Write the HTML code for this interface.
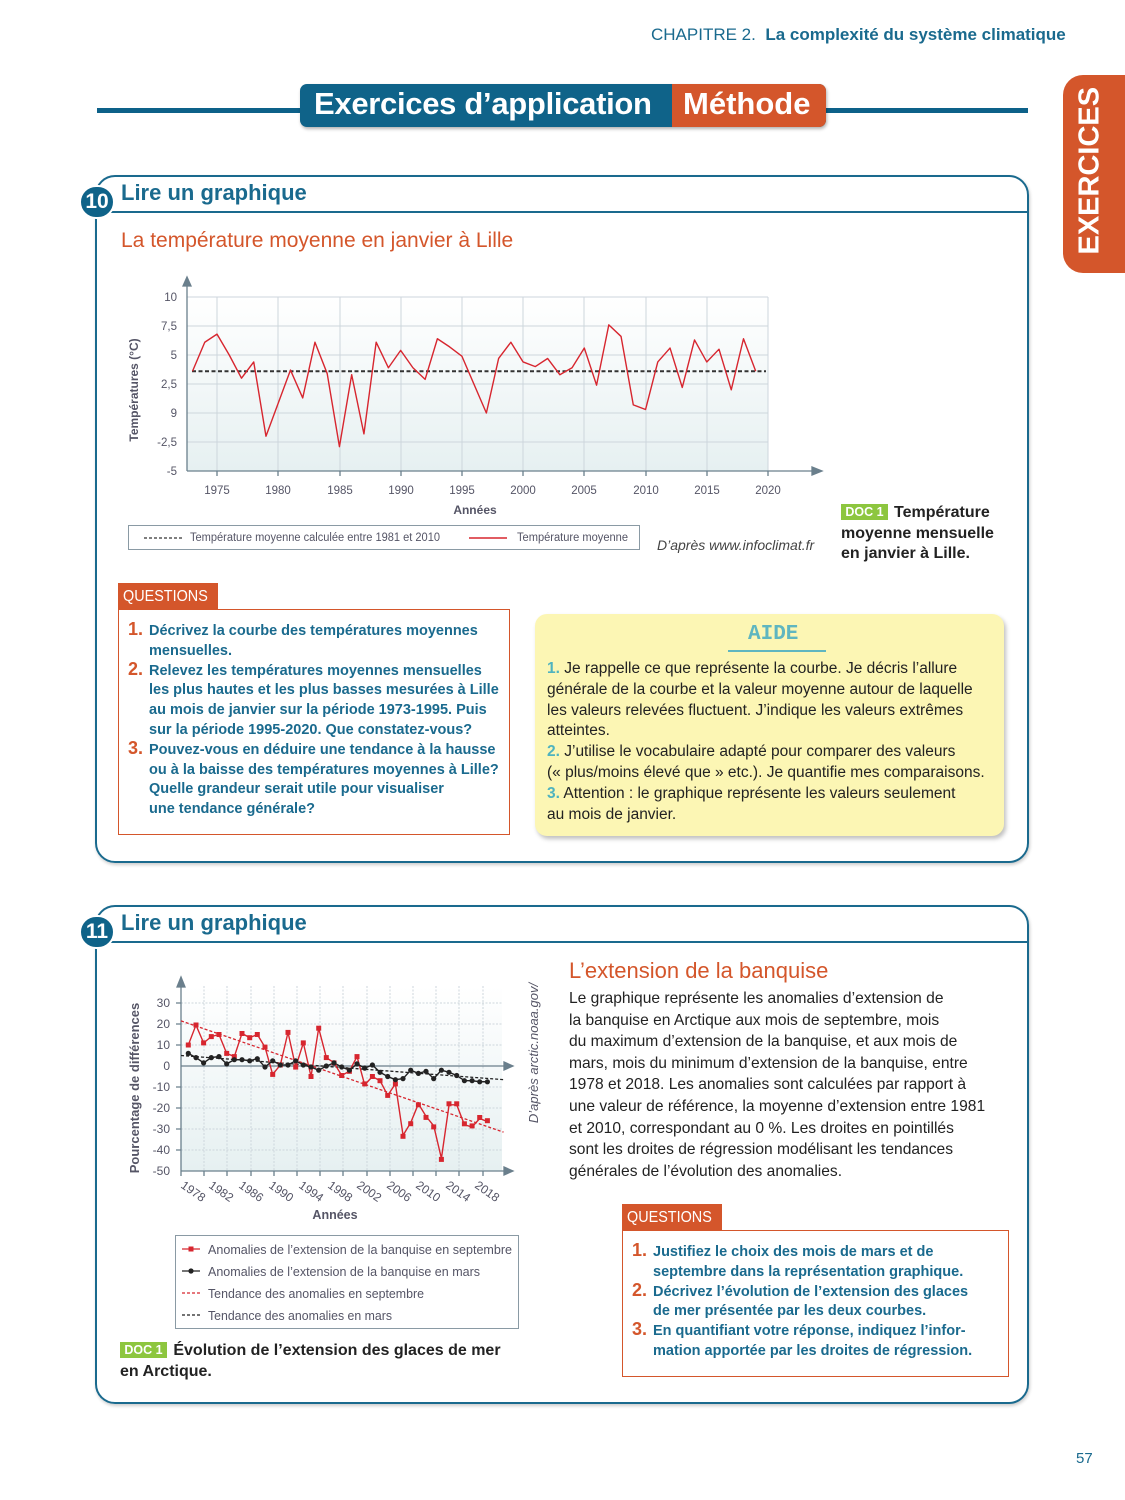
<!DOCTYPE html>
<html><head><meta charset="utf-8">
<style>
*{margin:0;padding:0;box-sizing:border-box}
body{width:1125px;height:1500px;position:relative;background:#fff;font-family:"Liberation Sans",sans-serif;overflow:hidden}
.a{position:absolute;white-space:nowrap}
.blue{color:#1a6a8e}
.q{position:absolute;font-size:14.5px;font-weight:bold;color:#1a6a8e;line-height:19.8px}
.q .n{position:absolute;color:#d4562b;font-size:18px}
.aide{font-size:15.5px;line-height:20.8px;color:#222}
.aide b{color:#4fb3bf}
.ql{position:absolute;width:100px;height:27px;background:#d4562b;color:#fff;font-size:16px;line-height:27px;padding-left:5px;overflow:hidden}
.ql span{display:inline-block;transform:scaleX(0.9);transform-origin:left}
</style></head><body>

<div class="a" style="left:651px;top:25px;font-size:17px;color:#1a6a8e">CHAPITRE 2.&nbsp; <b>La complexité du système climatique</b></div>

<div class="a" style="left:97px;top:108px;width:931px;height:5px;background:#0d6189"></div>
<div class="a" style="left:300px;top:84px;width:526px;height:43px;border-radius:7px;background:#0f6389;box-shadow:1px 2px 3px rgba(0,0,0,.3)"></div>
<div class="a" style="left:672px;top:84px;width:154px;height:43px;border-radius:0 7px 7px 0;background:#d4562b"></div>
<div class="a" style="left:314px;top:86px;font-size:31px;font-weight:bold;color:#fff;letter-spacing:-0.3px">Exercices d’application</div>
<div class="a" style="left:683px;top:86px;font-size:31px;font-weight:bold;color:#fff">Méthode</div>

<div class="a" style="left:1063px;top:75px;width:70px;height:198px;border-radius:20px 0 0 20px;background:#d4562b"></div>
<div class="a" style="left:1010px;top:158px;width:160px;transform:rotate(-90deg);text-align:center;font-size:29px;font-weight:bold;color:#fff">EXERCICES</div>

<!-- Box 1 -->
<div class="a" style="left:95px;top:175px;width:934px;height:688px;border:2px solid #1a6a8e;border-radius:20px;box-shadow:1px 2px 3px rgba(0,0,0,.2)"></div>
<div class="a" style="left:95px;top:211px;width:934px;height:2px;background:#1a6a8e"></div>
<div class="a" style="left:79px;top:185px;width:36px;height:34px;border-radius:17px;background:#0f6389;border:2px solid #fff;color:#fff;font-weight:bold;font-size:21px;text-align:center;line-height:30px">10</div>
<div class="a blue" style="left:121px;top:180px;font-size:22px;font-weight:bold">Lire un graphique</div>
<div class="a" style="left:121px;top:229px;font-size:21px;color:#d4562b">La température moyenne en janvier à Lille</div>

<!-- Box 2 -->
<div class="a" style="left:95px;top:905px;width:934px;height:499px;border:2px solid #1a6a8e;border-radius:20px;box-shadow:1px 2px 3px rgba(0,0,0,.2)"></div>
<div class="a" style="left:95px;top:941px;width:934px;height:2px;background:#1a6a8e"></div>
<div class="a" style="left:79px;top:915px;width:36px;height:34px;border-radius:17px;background:#0f6389;border:2px solid #fff;color:#fff;font-weight:bold;font-size:21px;text-align:center;line-height:30px">11</div>
<div class="a blue" style="left:121px;top:910px;font-size:22px;font-weight:bold">Lire un graphique</div>

<svg class="a" style="left:0;top:0" width="1125" height="1500" font-family="Liberation Sans, sans-serif">
<defs>
<linearGradient id="g1" x1="0" y1="0" x2="0" y2="1"><stop offset="0" stop-color="#fff"/><stop offset="1" stop-color="#e6f0f1"/></linearGradient>
</defs>
<!-- Chart 1 -->
<rect x="187" y="297" width="581" height="174" fill="url(#g1)"/>
<g stroke="#cdd6dc" stroke-width="1">
<line x1="187" y1="297" x2="768" y2="297"/><line x1="187" y1="326" x2="768" y2="326"/><line x1="187" y1="355" x2="768" y2="355"/><line x1="187" y1="384" x2="768" y2="384"/><line x1="187" y1="413" x2="768" y2="413"/><line x1="187" y1="442" x2="768" y2="442"/>
<line x1="217" y1="297" x2="217" y2="471"/><line x1="278" y1="297" x2="278" y2="471"/><line x1="340" y1="297" x2="340" y2="471"/><line x1="401" y1="297" x2="401" y2="471"/><line x1="462" y1="297" x2="462" y2="471"/><line x1="523" y1="297" x2="523" y2="471"/><line x1="584" y1="297" x2="584" y2="471"/><line x1="646" y1="297" x2="646" y2="471"/><line x1="707" y1="297" x2="707" y2="471"/><line x1="768" y1="297" x2="768" y2="471"/>
</g>
<g stroke="#6a7f8c" stroke-width="1.3" fill="none">
<line x1="187" y1="471" x2="818" y2="471"/><line x1="187" y1="471" x2="187" y2="280"/>
<path d="M183 286 L187 277 L191 286 Z M812 467 L822 471 L812 475 Z" fill="#6a7f8c"/>
<path d="M217 471v5M278 471v5M340 471v5M401 471v5M462 471v5M523 471v5M584 471v5M646 471v5M707 471v5M768 471v5"/>
</g>
<line x1="192" y1="371.2" x2="766" y2="371.2" stroke="#333" stroke-width="2" stroke-dasharray="4,2.5"/>
<g transform="translate(217,413) scale(12.244,-11.6)">
<polyline fill="none" stroke="#d7262f" stroke-width="1.4" vector-effect="non-scaling-stroke" stroke-linejoin="round" points="-2,3.6 -1,6.1 0,6.8 1,5 2,3 3,4.4 4,-2 6,3.7 7,1.3 8,6.1 9,3.4 10,-2.9 11,3.3 12,-1.8 13,6.1 14,3.9 15,5.4 16,3.9 17,2.9 18,6.4 19,5.7 20,4.9 22,0 23,4.7 24,6.1 25,4.4 26,4 27,4.7 28,3.3 29,3.9 30,5.6 31,2.4 32,7.6 33,6.6 34,0.7 35,0.3 36,4.4 37,5.6 38,2.2 39,6.3 40,4.4 41,5.5 42,2 43,6.4 44,3.6"/>
</g>
<g font-size="11.5" fill="#556" text-anchor="end">
<text x="177" y="301">10</text><text x="177" y="330">7,5</text><text x="177" y="359">5</text><text x="177" y="388">2,5</text><text x="177" y="417">9</text><text x="177" y="446">-2,5</text><text x="177" y="475">-5</text>
</g>
<g font-size="11.5" fill="#556" text-anchor="middle">
<text x="217" y="494">1975</text><text x="278" y="494">1980</text><text x="340" y="494">1985</text><text x="401" y="494">1990</text><text x="462" y="494">1995</text><text x="523" y="494">2000</text><text x="584" y="494">2005</text><text x="646" y="494">2010</text><text x="707" y="494">2015</text><text x="768" y="494">2020</text>
</g>
<text x="475" y="514" font-size="12" font-weight="bold" fill="#556" text-anchor="middle">Années</text>
<text transform="translate(138,390) rotate(-90)" font-size="12" font-weight="bold" fill="#556" text-anchor="middle">Températures (°C)</text>
<rect x="128.5" y="525.5" width="511" height="24" fill="#fff" stroke="#8a9aa4"/>
<line x1="144" y1="538" x2="182" y2="538" stroke="#333" stroke-width="1.3" stroke-dasharray="3,2"/>
<text x="190" y="541" font-size="11.5" fill="#556" textLength="250" lengthAdjust="spacingAndGlyphs">Température moyenne calculée entre 1981 et 2010</text>
<line x1="469" y1="538" x2="507" y2="538" stroke="#d7262f" stroke-width="1.4"/>
<text x="517" y="541" font-size="11.5" fill="#556" textLength="111" lengthAdjust="spacingAndGlyphs">Température moyenne</text>

<!-- Chart 2 -->
<rect x="181" y="986" width="321" height="185" fill="url(#g1)"/>
<g stroke="#cdd6dc" stroke-width="1" stroke-dasharray="2,1.5">
<line x1="181" y1="1003" x2="502" y2="1003"/><line x1="181" y1="1024" x2="502" y2="1024"/><line x1="181" y1="1045" x2="502" y2="1045"/><line x1="181" y1="1087" x2="502" y2="1087"/><line x1="181" y1="1108" x2="502" y2="1108"/><line x1="181" y1="1129" x2="502" y2="1129"/><line x1="181" y1="1150" x2="502" y2="1150"/>
<path d="M204 986v185M227 986v185M251 986v185M274 986v185M297 986v185M320 986v185M343 986v185M367 986v185M390 986v185M413 986v185M436 986v185M459 986v185M483 986v185"/>
</g>
<g stroke="#6a7f8c" stroke-width="1.3" fill="none">
<line x1="181" y1="1171" x2="506" y2="1171"/><line x1="181" y1="1066" x2="506" y2="1066"/><line x1="181" y1="1171" x2="181" y2="982"/>
<path d="M177 987 L181 977 L185 987 Z M504 1062 L513 1066 L504 1070 Z M504 1167 L513 1171 L504 1175 Z" fill="#6a7f8c"/>
<path d="M181 1171v5M204 1171v5M227 1171v5M251 1171v5M274 1171v5M297 1171v5M320 1171v5M343 1171v5M367 1171v5M390 1171v5M413 1171v5M436 1171v5M459 1171v5M483 1171v5M176 1003h5M176 1024h5M176 1045h5M176 1087h5M176 1108h5M176 1129h5M176 1150h5"/>
</g>
<g transform="translate(188.3,1066) scale(7.67,-2.1)">
<line x1="-0.95" y1="21.5" x2="41.1" y2="-31.5" stroke="#d7262f" stroke-width="1.3" stroke-dasharray="3,2" vector-effect="non-scaling-stroke"/>
<line x1="-0.95" y1="5" x2="41.1" y2="-6.5" stroke="#222" stroke-width="1.3" stroke-dasharray="3,2" vector-effect="non-scaling-stroke"/>
<polyline fill="none" stroke="#d7262f" stroke-width="1.4" vector-effect="non-scaling-stroke" points="0,10 1,19.5 2,11 3,14 4,15 5,6 6,4.5 7,15.5 8,13.5 9,15 10,9 11,-4 12,0.5 13,16 14,-0.5 15,11 16,-5 17,18 18,4 19,1.5 20,-4.5 21,-2.5 22,4.5 23,-9 24,-5 25,-7 26,-14 27,-8.5 28,-33 29,-27 30,-18 31,-24 32,-28.5 33,-44 34,-18.5 35,-18.5 36,-28 37,-29 38,-25 39,-26.5"/>
<polyline fill="none" stroke="#222" stroke-width="1.4" vector-effect="non-scaling-stroke" points="0,6 1,4 2,1.5 3,4 4,4.5 5,1 6,3 7,3 8,2.5 9,3.5 10,-0.5 11,2.5 12,0.5 13,0.5 14,2.5 15,0.5 16,-0.5 17,-2 18,0 19,1.5 20,-0.5 21,-2 22,1 23,-1 24,0.5 25,-3 26,-5 27,-6.5 28,-6 29,-2 30,-3.5 31,-2.5 32,-6 33,-2 34,-3 35,-4.5 36,-7 37,-7 38,-7.5 39,-7.5"/>
</g>
<g fill="#d7262f">
<rect x="185.8" y="1042.5" width="5" height="5"/><rect x="193.5" y="1022.5" width="5" height="5"/><rect x="201.1" y="1040.4" width="5" height="5"/><rect x="208.8" y="1034.1" width="5" height="5"/><rect x="216.5" y="1032" width="5" height="5"/><rect x="224.2" y="1050.9" width="5" height="5"/><rect x="231.8" y="1054.1" width="5" height="5"/><rect x="239.5" y="1031" width="5" height="5"/><rect x="247.2" y="1035.2" width="5" height="5"/><rect x="254.8" y="1032" width="5" height="5"/><rect x="262.5" y="1044.6" width="5" height="5"/><rect x="270.2" y="1071.9" width="5" height="5"/><rect x="277.8" y="1062.5" width="5" height="5"/><rect x="285.5" y="1029.9" width="5" height="5"/><rect x="293.2" y="1064.6" width="5" height="5"/><rect x="300.8" y="1040.4" width="5" height="5"/><rect x="308.5" y="1074" width="5" height="5"/><rect x="316.2" y="1025.7" width="5" height="5"/><rect x="323.8" y="1055.1" width="5" height="5"/><rect x="331.5" y="1060.4" width="5" height="5"/><rect x="339.2" y="1073" width="5" height="5"/><rect x="346.9" y="1068.8" width="5" height="5"/><rect x="354.5" y="1054.1" width="5" height="5"/><rect x="362.2" y="1081.4" width="5" height="5"/><rect x="369.9" y="1074" width="5" height="5"/><rect x="377.5" y="1078.2" width="5" height="5"/><rect x="385.2" y="1092.9" width="5" height="5"/><rect x="392.9" y="1081.4" width="5" height="5"/><rect x="400.5" y="1133.8" width="5" height="5"/><rect x="408.2" y="1121.2" width="5" height="5"/><rect x="415.9" y="1102.3" width="5" height="5"/><rect x="423.5" y="1114.9" width="5" height="5"/><rect x="431.2" y="1124.4" width="5" height="5"/><rect x="438.9" y="1156.9" width="5" height="5"/><rect x="446.5" y="1101.3" width="5" height="5"/><rect x="454.2" y="1101.3" width="5" height="5"/><rect x="461.9" y="1121.3" width="5" height="5"/><rect x="469.6" y="1123.4" width="5" height="5"/><rect x="477.2" y="1115" width="5" height="5"/><rect x="484.9" y="1118.2" width="5" height="5"/>
</g>
<g fill="#222">
<circle cx="188.3" cy="1053.4" r="2.6"/><circle cx="196" cy="1057.6" r="2.6"/><circle cx="203.6" cy="1062.9" r="2.6"/><circle cx="211.3" cy="1057.6" r="2.6"/><circle cx="219" cy="1056.6" r="2.6"/><circle cx="226.7" cy="1063.9" r="2.6"/><circle cx="234.3" cy="1059.7" r="2.6"/><circle cx="242" cy="1059.7" r="2.6"/><circle cx="249.7" cy="1060.8" r="2.6"/><circle cx="257.3" cy="1058.7" r="2.6"/><circle cx="265" cy="1067" r="2.6"/><circle cx="272.7" cy="1060.8" r="2.6"/><circle cx="280.3" cy="1065" r="2.6"/><circle cx="288" cy="1065" r="2.6"/><circle cx="295.7" cy="1060.8" r="2.6"/><circle cx="303.3" cy="1065" r="2.6"/><circle cx="311" cy="1067" r="2.6"/><circle cx="318.7" cy="1070.2" r="2.6"/><circle cx="326.3" cy="1066" r="2.6"/><circle cx="334" cy="1062.9" r="2.6"/><circle cx="341.7" cy="1067" r="2.6"/><circle cx="349.4" cy="1070.2" r="2.6"/><circle cx="357" cy="1063.9" r="2.6"/><circle cx="364.7" cy="1068.1" r="2.6"/><circle cx="372.4" cy="1065" r="2.6"/><circle cx="380" cy="1072.3" r="2.6"/><circle cx="387.7" cy="1076.5" r="2.6"/><circle cx="395.4" cy="1079.7" r="2.6"/><circle cx="403" cy="1078.6" r="2.6"/><circle cx="410.7" cy="1070.2" r="2.6"/><circle cx="418.4" cy="1073.4" r="2.6"/><circle cx="426" cy="1071.3" r="2.6"/><circle cx="433.7" cy="1078.6" r="2.6"/><circle cx="441.4" cy="1070.2" r="2.6"/><circle cx="449" cy="1072.3" r="2.6"/><circle cx="456.7" cy="1075.5" r="2.6"/><circle cx="464.4" cy="1080.7" r="2.6"/><circle cx="472.1" cy="1080.7" r="2.6"/><circle cx="479.7" cy="1081.8" r="2.6"/><circle cx="487.4" cy="1081.8" r="2.6"/>
</g>
<g font-size="12" fill="#556" text-anchor="end">
<text x="170" y="1007">30</text><text x="170" y="1028">20</text><text x="170" y="1049">10</text><text x="170" y="1070">0</text><text x="170" y="1091">-10</text><text x="170" y="1112">-20</text><text x="170" y="1133">-30</text><text x="170" y="1154">-40</text><text x="170" y="1175">-50</text>
</g>
<g font-size="12" fill="#556">
<text transform="translate(180,1187) rotate(35)">1978</text><text transform="translate(208,1187) rotate(35)">1982</text><text transform="translate(238,1187) rotate(35)">1986</text><text transform="translate(268,1187) rotate(35)">1990</text><text transform="translate(298,1187) rotate(35)">1994</text><text transform="translate(327,1187) rotate(35)">1998</text><text transform="translate(356,1187) rotate(35)">2002</text><text transform="translate(386,1187) rotate(35)">2006</text><text transform="translate(415,1187) rotate(35)">2010</text><text transform="translate(445,1187) rotate(35)">2014</text><text transform="translate(474,1187) rotate(35)">2018</text>
</g>
<text x="335" y="1219" font-size="12.5" font-weight="bold" fill="#556" text-anchor="middle">Années</text>
<text transform="translate(139,1088) rotate(-90)" font-size="13" font-weight="bold" fill="#556" text-anchor="middle">Pourcentage de différences</text>
<text transform="translate(538,1053) rotate(-90)" font-size="13" font-style="italic" fill="#556" text-anchor="middle">D’après arctic.noaa.gov/</text>
<rect x="175.5" y="1235.5" width="343" height="93" fill="#fff" stroke="#8a9aa4"/>
<g font-size="13" fill="#556">
<line x1="182" y1="1249" x2="200" y2="1249" stroke="#d7262f" stroke-width="1.3"/><rect x="188.5" y="1246.5" width="5" height="5" fill="#d7262f"/>
<text x="208" y="1254" textLength="304" lengthAdjust="spacingAndGlyphs">Anomalies de l’extension de la banquise en septembre</text>
<line x1="182" y1="1271" x2="200" y2="1271" stroke="#222" stroke-width="1.3"/><circle cx="191" cy="1271" r="2.6" fill="#222"/>
<text x="208" y="1276" textLength="272" lengthAdjust="spacingAndGlyphs">Anomalies de l’extension de la banquise en mars</text>
<line x1="182" y1="1293" x2="200" y2="1293" stroke="#d7262f" stroke-width="1.3" stroke-dasharray="3,2"/>
<text x="208" y="1298" textLength="216" lengthAdjust="spacingAndGlyphs">Tendance des anomalies en septembre</text>
<line x1="182" y1="1315" x2="200" y2="1315" stroke="#222" stroke-width="1.3" stroke-dasharray="3,2"/>
<text x="208" y="1320" textLength="184" lengthAdjust="spacingAndGlyphs">Tendance des anomalies en mars</text>
</g>
</svg>

<div class="a" style="left:657px;top:537px;font-size:14px;font-style:italic;color:#444">D’après www.infoclimat.fr</div>
<div class="a" style="left:841px;top:504px;width:47px;height:16px;background:#8dc63f;color:#fff;font-size:12.5px;font-weight:bold;text-align:center;line-height:16px">DOC 1</div>
<div class="a" style="left:894px;top:503px;font-size:16px;font-weight:bold;color:#222;line-height:20.5px">Température</div>
<div class="a" style="left:841px;top:523.5px;font-size:16px;font-weight:bold;color:#222;line-height:20.5px">moyenne mensuelle<br>en janvier à Lille.</div>

<!-- Questions 1 -->
<div class="ql" style="left:118px;top:583px"><span>QUESTIONS</span></div>
<div class="a" style="left:118px;top:609px;width:392px;height:226px;border:1.5px solid #d4562b"></div>
<div class="q" style="left:149px;top:622px;white-space:nowrap">
<span class="n" style="left:-21px;top:-2px">1.</span>Décrivez la courbe des températures moyennes<br>mensuelles.<br>
<span class="n" style="left:-21px;top:38px">2.</span>Relevez les températures moyennes mensuelles<br>les plus hautes et les plus basses mesurées à Lille<br>au mois de janvier sur la période 1973-1995. Puis<br>sur la période 1995-2020. Que constatez-vous?<br>
<span class="n" style="left:-21px;top:117px">3.</span>Pouvez-vous en déduire une tendance à la hausse<br>ou à la baisse des températures moyennes à Lille?<br>Quelle grandeur serait utile pour visualiser<br>une tendance générale?</div>

<!-- Aide -->
<div class="a" style="left:535px;top:614px;width:469px;height:222px;background:#fcf6b4;border-radius:12px;box-shadow:2px 3px 4px rgba(0,0,0,.25)"></div>
<div class="a" style="left:748px;top:623px;font-family:'Liberation Mono',monospace;font-weight:bold;font-size:21px;color:#5fb6c0">AIDE</div>
<div class="a" style="left:728px;top:650px;width:98px;height:2px;background:#5fb6c0"></div>
<div class="a aide" style="left:547px;top:659px"><b>1.</b> Je rappelle ce que représente la courbe. Je décris l’allure<br>générale de la courbe et la valeur moyenne autour de laquelle<br>les valeurs relevées fluctuent. J’indique les valeurs extrêmes<br>atteintes.<br><b>2.</b> J’utilise le vocabulaire adapté pour comparer des valeurs<br>(« plus/moins élevé que » etc.). Je quantifie mes comparaisons.<br><b>3.</b> Attention : le graphique représente les valeurs seulement<br>au mois de janvier.</div>

<!-- Ex 11 text -->
<div class="a" style="left:569px;top:958px;font-size:22px;color:#d4562b">L’extension de la banquise</div>
<div class="a" style="left:569px;top:988px;font-size:15.6px;line-height:21.6px;color:#222">Le graphique représente les anomalies d’extension de<br>la banquise en Arctique aux mois de septembre, mois<br>du maximum d’extension de la banquise, et aux mois de<br>mars, mois du minimum d’extension de la banquise, entre<br>1978 et 2018. Les anomalies sont calculées par rapport à<br>une valeur de référence, la moyenne d’extension entre 1981<br>et 2010, correspondant au 0 %. Les droites en pointillés<br>sont les droites de régression modélisant les tendances<br>générales de l’évolution des anomalies.</div>

<div class="ql" style="left:622px;top:1204px"><span>QUESTIONS</span></div>
<div class="a" style="left:622px;top:1230px;width:387px;height:147px;border:1.5px solid #d4562b"></div>
<div class="q" style="left:653px;top:1243px;white-space:nowrap">
<span class="n" style="left:-21px;top:-2px">1.</span>Justifiez le choix des mois de mars et de<br>septembre dans la représentation graphique.<br>
<span class="n" style="left:-21px;top:38px">2.</span>Décrivez l’évolution de l’extension des glaces<br>de mer présentée par les deux courbes.<br>
<span class="n" style="left:-21px;top:77px">3.</span>En quantifiant votre réponse, indiquez l’infor-<br>mation apportée par les droites de régression.</div>

<div class="a" style="left:120px;top:1342px;width:47px;height:16px;background:#8dc63f;color:#fff;font-size:12.5px;font-weight:bold;text-align:center;line-height:16px">DOC 1</div>
<div class="a" style="left:120px;top:1340px;font-size:16px;font-weight:bold;color:#222;line-height:21px">&nbsp;&nbsp;&nbsp;&nbsp;&nbsp;&nbsp;&nbsp;&nbsp;&nbsp;&nbsp;&nbsp; Évolution de l’extension des glaces de mer<br>en Arctique.</div>

<div class="a" style="left:1076px;top:1450px;font-size:15px;color:#1a6a8e">57</div>
</body></html>
